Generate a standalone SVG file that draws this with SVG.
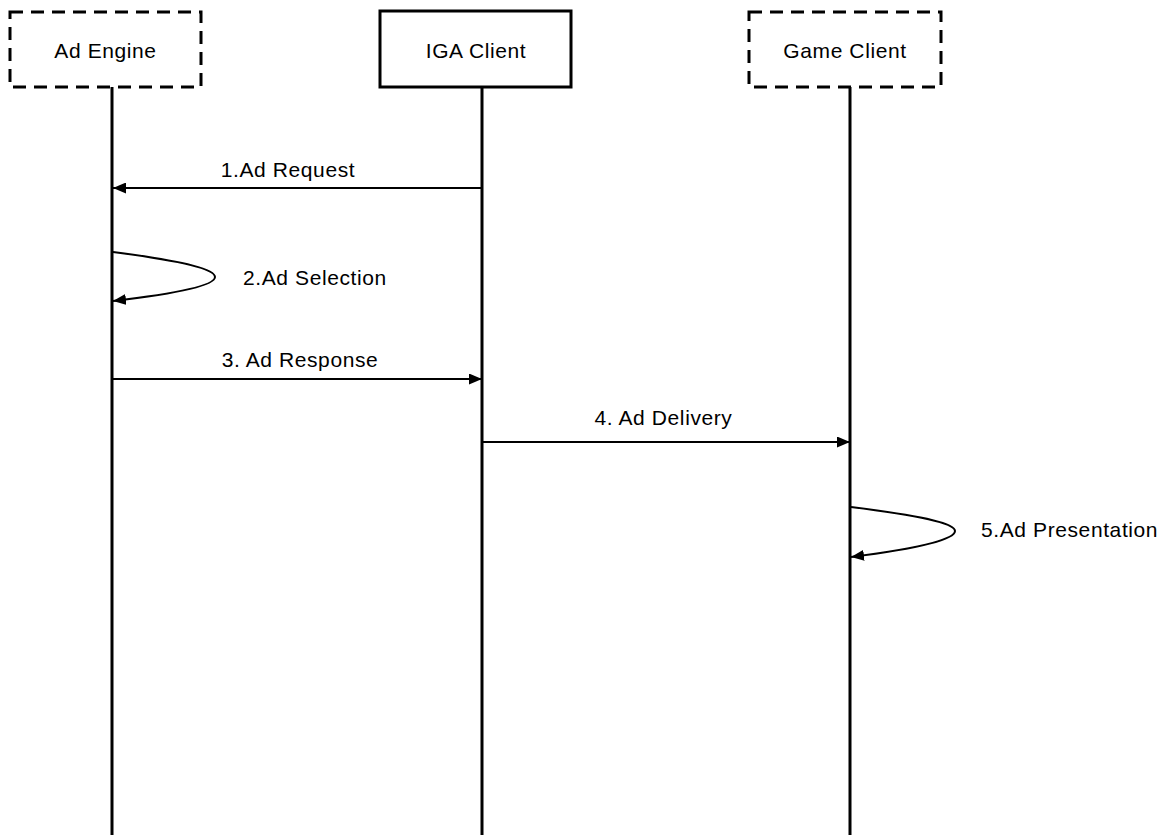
<svg xmlns="http://www.w3.org/2000/svg" width="1172" height="835" viewBox="0 0 1172 835">
<style>
.box{fill:#fff;stroke:#000;stroke-width:3}
.dash{stroke-dasharray:13 8}
.life{stroke:#000;stroke-width:3}
.msg{fill:none;stroke:#000;stroke-width:2}
text{font-family:"Liberation Sans",Arial,sans-serif;font-size:21px;fill:#000;letter-spacing:0.6px}
</style>
<defs>
<marker id="ah" viewBox="0 0 13 11" refX="13" refY="5.5" markerWidth="13" markerHeight="11" markerUnits="userSpaceOnUse" orient="auto">
<path d="M0,0 L13,5.5 L0,11 Z" fill="#000"/>
</marker>
</defs>
<rect width="1172" height="835" fill="#fff"/>
<g id="lifelines">
<line class="life" x1="112" y1="87" x2="112" y2="835"/>
<line class="life" x1="482" y1="87" x2="482" y2="835"/>
<line class="life" x1="850" y1="87" x2="850" y2="835"/>
</g>
<g id="ad-engine">
<rect class="box dash" x="10" y="12" width="191" height="75"/>
<text x="105.5" y="58" text-anchor="middle">Ad Engine</text>
</g>
<g id="iga-client">
<rect class="box" x="380" y="11" width="191" height="76"/>
<text x="476" y="58" text-anchor="middle">IGA Client</text>
</g>
<g id="game-client">
<rect class="box dash" x="749" y="12" width="192" height="75"/>
<text x="845" y="58" text-anchor="middle">Game Client</text>
</g>
<g id="connectors">
<line class="msg" x1="482" y1="188" x2="113" y2="188" marker-end="url(#ah)"/>
<path class="msg" d="M113,252 C190,262 215,270 215,277 C215,284 190,292 113,301" marker-end="url(#ah)"/>
<line class="msg" x1="113" y1="379" x2="482" y2="379" marker-end="url(#ah)"/>
<line class="msg" x1="482" y1="442" x2="850" y2="442" marker-end="url(#ah)"/>
<path class="msg" d="M851,507 C930,517 955,524 955,531 C955,538 930,547 851,557" marker-end="url(#ah)"/>
</g>
<g id="labels">
<text x="288" y="177" text-anchor="middle">1.Ad Request</text>
<text x="243" y="285">2.Ad Selection</text>
<text x="300" y="367" text-anchor="middle">3. Ad Response</text>
<text x="663.5" y="425" text-anchor="middle">4. Ad Delivery</text>
<text x="981" y="537">5.Ad Presentation</text>
</g>
</svg>
